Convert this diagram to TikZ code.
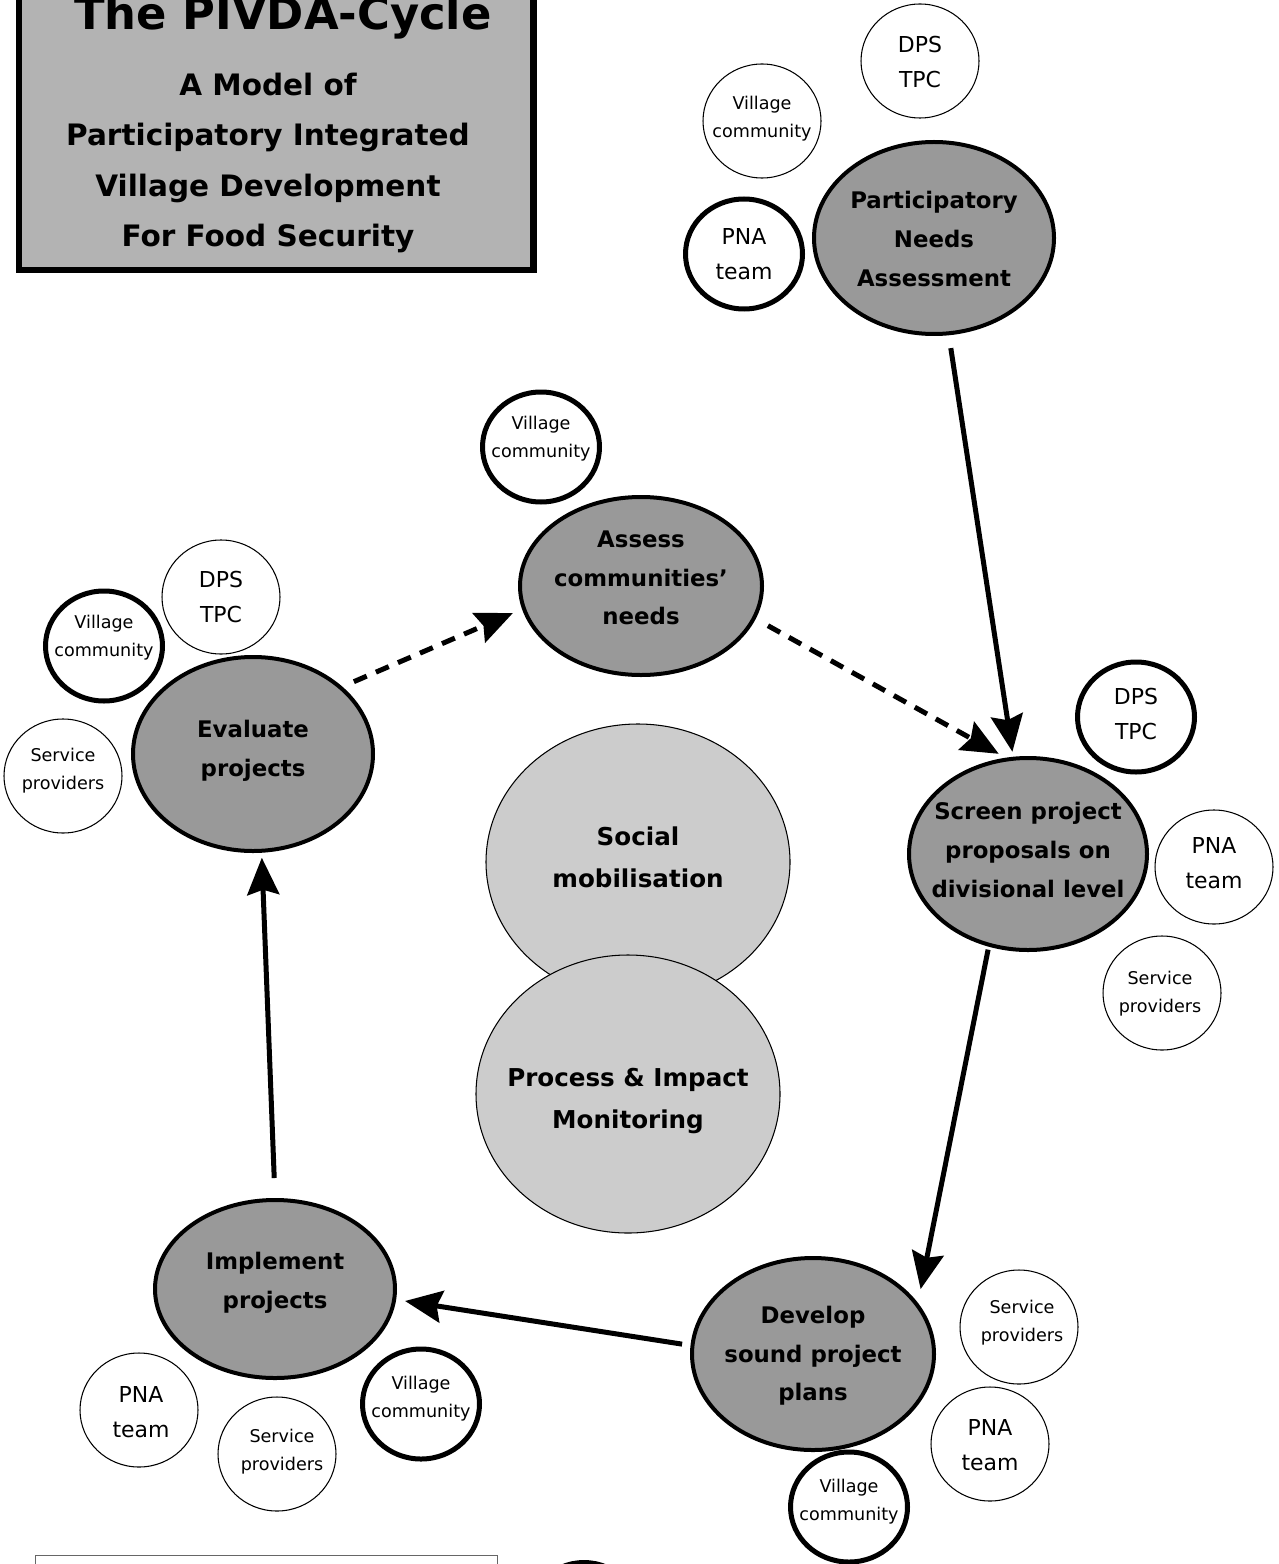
\documentclass[tikz,border=0pt]{standalone}
\usepackage{fontspec}
\setmainfont{DejaVu Sans}
\usetikzlibrary{shapes.geometric,arrows.meta}
\definecolor{stagefill}{RGB}{153,153,153}
\definecolor{corefill}{RGB}{204,204,204}
\definecolor{bannerfill}{RGB}{179,179,179}
\begin{document}
\begin{tikzpicture}[x=0.02cm,y=-0.02cm,
  dims/.style 2 args={minimum width=#1*0.02cm, minimum height=#2*0.02cm},
  stage/.style={ellipse, draw, line width=0.08cm, fill=stagefill, inner sep=0pt},
  stagetext/.style={align=center, inner sep=0pt, font=\bfseries\fontsize{13}{22}\selectfont},
  core/.style={ellipse, draw, line width=0.6pt, fill=corefill, inner sep=0pt},
  coretext/.style={align=center, inner sep=0pt, font=\bfseries\fontsize{14}{24}\selectfont},
  party/.style={ellipse, draw, line width=0.6pt, fill=white, inner sep=0pt, dims={118}{114}},
  keyparty/.style={party, line width=0.1cm, dims={117}{110}},
  smalltext/.style={align=center, inner sep=0pt, font=\fontsize{10}{16}\selectfont},
  bigtext/.style={align=center, inner sep=0pt, font=\fontsize{12.5}{20}\selectfont},
  flow/.style={line width=0.1cm, -{Stealth[length=0.74cm, width=0.64cm, inset=0.1cm]}},
  dashflow/.style={flow, dash pattern=on 0.28cm off 0.2cm},
]
\useasboundingbox (0,0) rectangle (1278,1564);
\begin{scope}
\clip (0,0) rectangle (1278,1564);

% title banner
\node[draw, line width=0.14cm, fill=bannerfill, inner sep=0pt, dims={514}{314}, anchor=south west] (banner) at (15.5,273.5) {};
\node[anchor=base, inner sep=0pt, font=\bfseries\fontsize{25.5}{30}\selectfont] (bannertitle) at (283,30) {The PIVDA-Cycle};
\node[align=center, inner sep=0pt, font=\bfseries\fontsize{16.8}{28.5}\selectfont] (bannersub) at (268,163)
  {A Model of\\Participatory Integrated\\Village Development\\For Food Security};

% central themes
\node[core, dims={304}{276}] (social) at (638,862) {};
\node[coretext] (socialT) at (638,857) {Social\\mobilisation};
\node[core, dims={304}{278}] (monitor) at (628,1094) {};
\node[coretext] (monitorT) at (628,1101) {Process \& Impact\\Monitoring};

% cycle stages
\node[stage, dims={240}{192}] (pna) at (934,238) {};
\node[stagetext] (pnaT) at (934,239) {Participatory\\Needs\\Assessment};
\node[stage, dims={242}{178}] (assess) at (641,586) {};
\node[stagetext] (assessT) at (641,578) {Assess\\communities'\\needs};
\node[stage, dims={240}{194}] (evaluate) at (253,754) {};
\node[stagetext] (evaluateT) at (253,751) {Evaluate\\projects};
\node[stage, dims={238}{192}] (screen) at (1028,854) {};
\node[stagetext] (screenT) at (1028,850) {Screen project\\proposals on\\divisional level};
\node[stage, dims={242}{192}] (develop) at (813,1354) {};
\node[stagetext] (developT) at (813,1356) {Develop\\sound project\\plans};
\node[stage, dims={240}{178}] (implement) at (275,1289) {};
\node[stagetext] (implementT) at (275,1283) {Implement\\projects};

% actors around Participatory Needs Assessment
\node[party] (dpsA) at (920,61) {};
\node[bigtext] (dpsAT) at (920,62) {DPS\\TPC};
\node[party] (vcA) at (762,121) {};
\node[smalltext] (vcAT) at (762,119) {Village\\community};
\node[keyparty] (pnaA) at (744,254) {};
\node[bigtext] (pnaAT) at (744,254) {PNA\\team};

% actors around Assess communities' needs
\node[keyparty] (vcB) at (541,447) {};
\node[smalltext] (vcBT) at (541,439) {Village\\community};

% actors around Evaluate projects
\node[party] (dpsC) at (221,597) {};
\node[bigtext] (dpsCT) at (221,597) {DPS\\TPC};
\node[keyparty] (vcC) at (104,646) {};
\node[smalltext] (vcCT) at (104,638) {Village\\community};
\node[party] (spC) at (63,776) {};
\node[smalltext] (spCT) at (63,771) {Service\\providers};

% actors around Screen project proposals
\node[keyparty] (dpsD) at (1136,717) {};
\node[bigtext] (dpsDT) at (1136,714) {DPS\\TPC};
\node[party] (pnaD) at (1214,867) {};
\node[bigtext] (pnaDT) at (1214,863) {PNA\\team};
\node[party] (spD) at (1162,993) {};
\node[smalltext] (spDT) at (1160,994) {Service\\providers};

% actors around Develop sound project plans
\node[party] (spE) at (1019,1327) {};
\node[smalltext] (spET) at (1022,1323) {Service\\providers};
\node[party] (pnaE) at (990,1444) {};
\node[bigtext] (pnaET) at (990,1445) {PNA\\team};
\node[keyparty] (vcE) at (849,1507) {};
\node[smalltext] (vcET) at (849,1502) {Village\\community};

% actors around Implement projects
\node[party] (pnaF) at (139,1410) {};
\node[bigtext] (pnaFT) at (141,1412) {PNA\\team};
\node[party] (spF) at (277,1454) {};
\node[smalltext] (spFT) at (282,1452) {Service\\providers};
\node[keyparty] (vcF) at (421,1404) {};
\node[smalltext] (vcFT) at (421,1399) {Village\\community};

% partly visible items along the lower edge
\node[draw=black!60, line width=0.6pt, inner sep=0pt, dims={462}{100}, anchor=north west] (keybox) at (35,1555) {};
\node[circle, draw, line width=0.1cm, fill=white, inner sep=0pt, minimum size=2.3cm] (extra) at (584,1620) {};

% the cycle
\draw[dashflow, shorten <=0.28cm, shorten >=0.16cm] (assess.-16) -- (screen.103);
\draw[flow, shorten <=0.26cm, shorten >=0.1cm] (pna) -- (screen);
\draw[flow, shorten <=0.06cm, shorten >=0.28cm] (screen.-113) -- (develop.26);
\draw[flow, shorten <=0.17cm, shorten >=0.18cm] (develop.176) -- (implement.-5);
\draw[flow, shorten <=0.4cm, shorten >=0.1cm] (implement.90) -- (evaluate.-85);
\draw[dashflow, shorten <=0.25cm, shorten >=0.2cm] (evaluate.37) -- (assess.191);
\end{scope}
\end{tikzpicture}
\end{document}
